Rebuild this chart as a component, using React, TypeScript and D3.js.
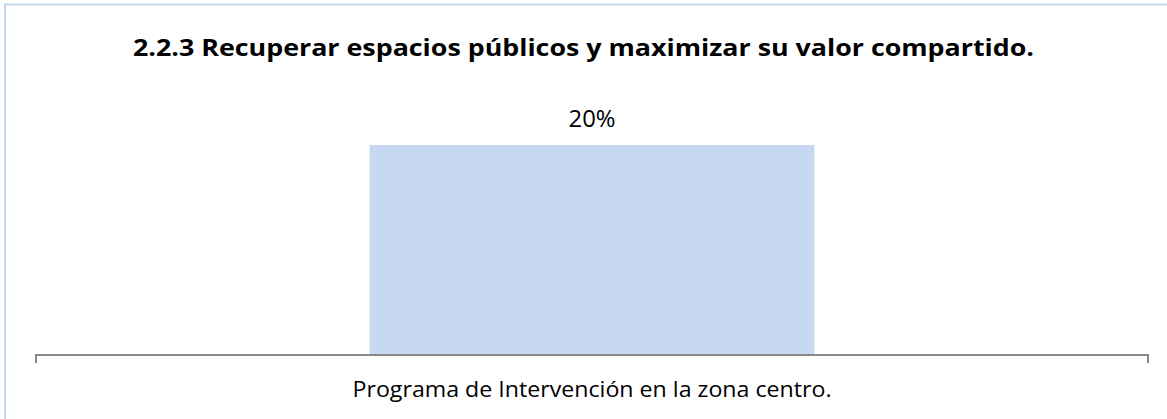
import React from "react";
import * as d3 from "d3";

const categories = ["Programa de Intervención en la zona centro."];
const values = [0.2];
const title = "2.2.3 Recuperar espacios públicos y maximizar su valor compartido.";

const W = 1167;
const H = 419;
const FONT = "'Open Sans', sans-serif";

export default function App() {
  const x = d3
    .scaleBand<string>()
    .domain(categories)
    .range([36, 1148])
    .paddingInner(0.4286)
    .paddingOuter(0.4286);
  const y = d3.scaleLinear().domain([0, 0.2]).range([355, 145]);
  const fmt = d3.format(".0%");
  const [x0, x1] = x.range();
  return (
    <div style={{ position: "fixed", left: 0, top: 0 }}>
      <svg width={W} height={H} style={{ display: "block", background: "#fff" }}>
        <rect x={5} y={4.5} width={W + 10} height={H + 10} fill="#fff" stroke="#C5D7EF" strokeWidth={2} />
        <text
          x={583.5}
          y={56}
          textAnchor="middle"
          fontFamily={FONT}
          fontWeight="bold"
          fontSize={24}
          textLength={901}
          lengthAdjust="spacingAndGlyphs"
          fill="#000"
        >
          {title}
        </text>
        {categories.map((c, i) => (
          <g key={c}>
            <rect
              x={x(c)!}
              y={y(values[i])}
              width={x.bandwidth()}
              height={y(0) - y(values[i])}
              fill="#C6D9F1"
            />
            <text
              x={x(c)! + x.bandwidth() / 2}
              y={y(values[i]) - 18}
              textAnchor="middle"
              fontFamily={FONT}
              fontSize={23}
              textLength={47}
              lengthAdjust="spacingAndGlyphs"
              fill="#000"
            >
              {fmt(values[i])}
            </text>
            <text
              x={x(c)! + x.bandwidth() / 2}
              y={397}
              textAnchor="middle"
              fontFamily={FONT}
              fontSize={22}
              textLength={479}
              lengthAdjust="spacingAndGlyphs"
              fill="#000"
            >
              {c}
            </text>
          </g>
        ))}
        <path
          d={`M${x0},${363}V${y(0)}H${x1}V${363}`}
          fill="none"
          stroke="#898989"
          strokeWidth={2}
        />
      </svg>
    </div>
  );
}
